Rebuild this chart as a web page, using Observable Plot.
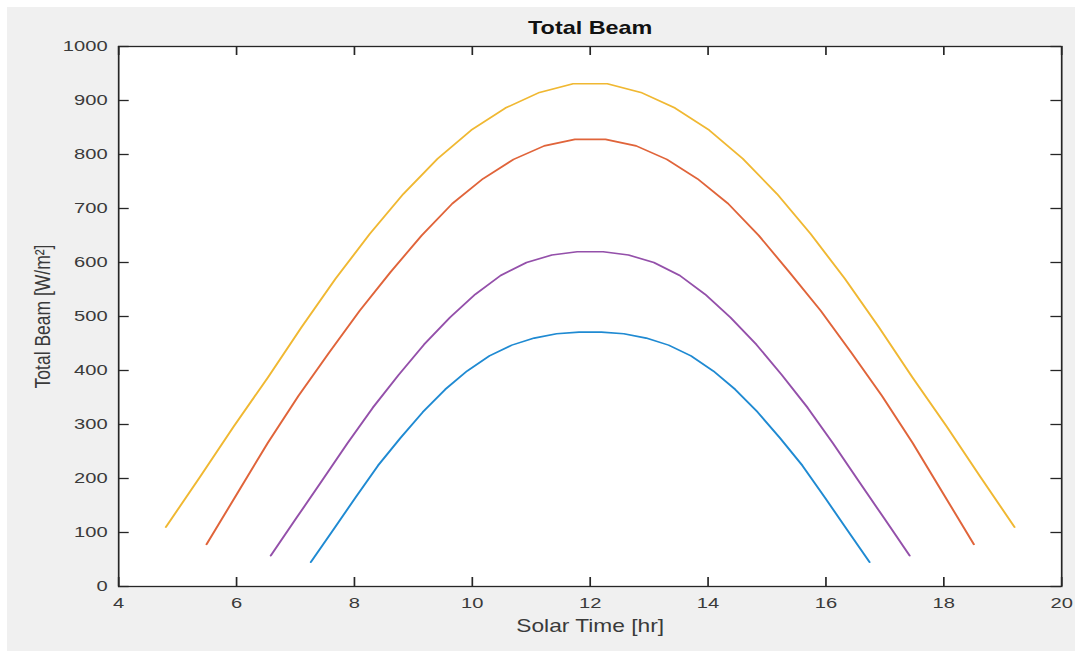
<!DOCTYPE html>
<html><head><meta charset="utf-8">
<script src="https://cdn.jsdelivr.net/npm/d3@7"></script>
<script src="https://cdn.jsdelivr.net/npm/@observablehq/plot@0.6"></script>
<style>
html,body{margin:0;padding:0;background:#fff;width:1079px;height:651px;overflow:hidden;}
#bg{position:absolute;left:7px;top:7px;width:1068px;height:644px;background:#f0f0f0;}
#chart{position:absolute;left:0;top:0;width:830px;height:651px;transform:scaleX(1.3);transform-origin:0 0;}
</style></head><body><div id="bg"></div><div id="chart"></div>
<script>
const title = "Total Beam";
const xLabel = "Solar Time [hr]";
const yLabel = "Total Beam [W/m\u00B2]";
const xTicks = [4, 6, 8, 10, 12, 14, 16, 18, 20];
const yTicks = [0, 100, 200, 300, 400, 500, 600, 700, 800, 900, 1000];

const timeYellow = [4.80, 5.38, 5.95, 6.53, 7.10, 7.68, 8.26, 8.83, 9.41, 9.98, 10.56, 11.14, 11.71, 12.29, 12.86, 13.44, 14.02, 14.59, 15.17, 15.74, 16.32, 16.90, 17.47, 18.05, 18.62, 19.20];
const beamYellow = [110, 203, 296, 387, 480, 570, 653, 727, 792, 845, 886, 915, 931, 931, 915, 886, 845, 792, 727, 653, 570, 480, 387, 296, 203, 110];

const timeOrange = [5.49, 6.01, 6.53, 7.05, 7.57, 8.09, 8.61, 9.14, 9.66, 10.18, 10.70, 11.22, 11.74, 12.26, 12.78, 13.30, 13.82, 14.34, 14.86, 15.38, 15.91, 16.43, 16.95, 17.47, 17.99, 18.51];
const beamOrange = [78, 172, 266, 353, 433, 511, 582, 650, 709, 755, 791, 816, 828, 828, 816, 791, 755, 709, 650, 582, 511, 433, 353, 266, 172, 78];

const timePurple = [6.58, 7.01, 7.45, 7.88, 8.31, 8.75, 9.18, 9.62, 10.05, 10.48, 10.92, 11.35, 11.78, 12.22, 12.65, 13.08, 13.52, 13.95, 14.38, 14.82, 15.25, 15.69, 16.12, 16.55, 16.99, 17.42];
const beamPurple = [57, 126, 196, 265, 331, 392, 448, 498, 541, 576, 600, 614, 620, 620, 614, 600, 576, 541, 498, 448, 392, 331, 265, 196, 126, 57];

const timeBlue = [7.26, 7.64, 8.02, 8.40, 8.78, 9.16, 9.54, 9.91, 10.29, 10.67, 11.05, 11.43, 11.81, 12.19, 12.57, 12.95, 13.33, 13.71, 14.09, 14.46, 14.84, 15.22, 15.60, 15.98, 16.36, 16.74];
const beamBlue = [45, 105, 165, 224, 275, 323, 365, 399, 427, 447, 460, 468, 471, 471, 468, 460, 447, 427, 399, 365, 323, 275, 224, 165, 105, 45];

const seriesList = [
  {t: timeBlue, b: beamBlue, color: "#1f8ad2"},
  {t: timeOrange, b: beamOrange, color: "#e0643a"},
  {t: timeYellow, b: beamYellow, color: "#f0b832"},
  {t: timePurple, b: beamPurple, color: "#9450aa"}
];

const W = 830, H = 651;
const mL = 90.8, mR = 13.8, mT = 46, mB = 65;
const innerW = W - mL - mR, innerH = H - mT - mB;
const tickV = 9, tickH = 8.2;
const fontFamily = "'Liberation Sans', Arial, Helvetica, sans-serif";
const axisColor = "#262626";

const lineMarks = seriesList.map(s =>
  Plot.line(s.t.map((t, i) => ({t, b: s.b[i]})), {x: "t", y: "b", stroke: s.color, strokeWidth: 1.6})
);

const chart = Plot.plot({
  width: W, height: H,
  marginLeft: mL, marginRight: mR, marginTop: mT, marginBottom: mB,
  style: {background: "transparent", color: "#3a3a3a", fontFamily: fontFamily, overflow: "visible"},
  x: {domain: [4, 20], label: null},
  y: {domain: [0, 1000], label: null},
  marks: [
    Plot.frame({fill: "white", stroke: null}),
    ...lineMarks,
    Plot.frame({stroke: axisColor, strokeWidth: 1.3}),
    Plot.tickX(xTicks, {x: d => d, insetTop: innerH - tickV, stroke: axisColor, strokeWidth: 1.3}),
    Plot.tickX(xTicks, {x: d => d, insetBottom: innerH - tickV, stroke: axisColor, strokeWidth: 1.3}),
    Plot.tickY(yTicks, {y: d => d, insetRight: innerW - tickH, stroke: axisColor, strokeWidth: 1.3}),
    Plot.tickY(yTicks, {y: d => d, insetLeft: innerW - tickH, stroke: axisColor, strokeWidth: 1.3}),
    Plot.axisX(xTicks, {tickSize: 0, tickPadding: 10, tickFormat: d => String(d), fontSize: 15.5, label: null}),
    Plot.axisY(yTicks, {tickSize: 0, tickPadding: 8.5, tickFormat: d => String(d), fontSize: 15.5, label: null}),
    Plot.text([title], {text: d => d, frameAnchor: "top", dy: -18, lineAnchor: "middle", fontWeight: "bold", fontSize: 18, fill: "#111"}),
    Plot.text([xLabel], {text: d => d, frameAnchor: "bottom", dy: 40, lineAnchor: "middle", fontSize: 17.5, fill: "#3a3a3a"}),
    Plot.text([yLabel], {text: d => d, frameAnchor: "left", dx: -58.5, rotate: -90, lineAnchor: "middle", textAnchor: "middle", fontSize: 17.5, fill: "#3a3a3a"})
  ]
});
document.getElementById("chart").appendChild(chart);
</script></body></html>
